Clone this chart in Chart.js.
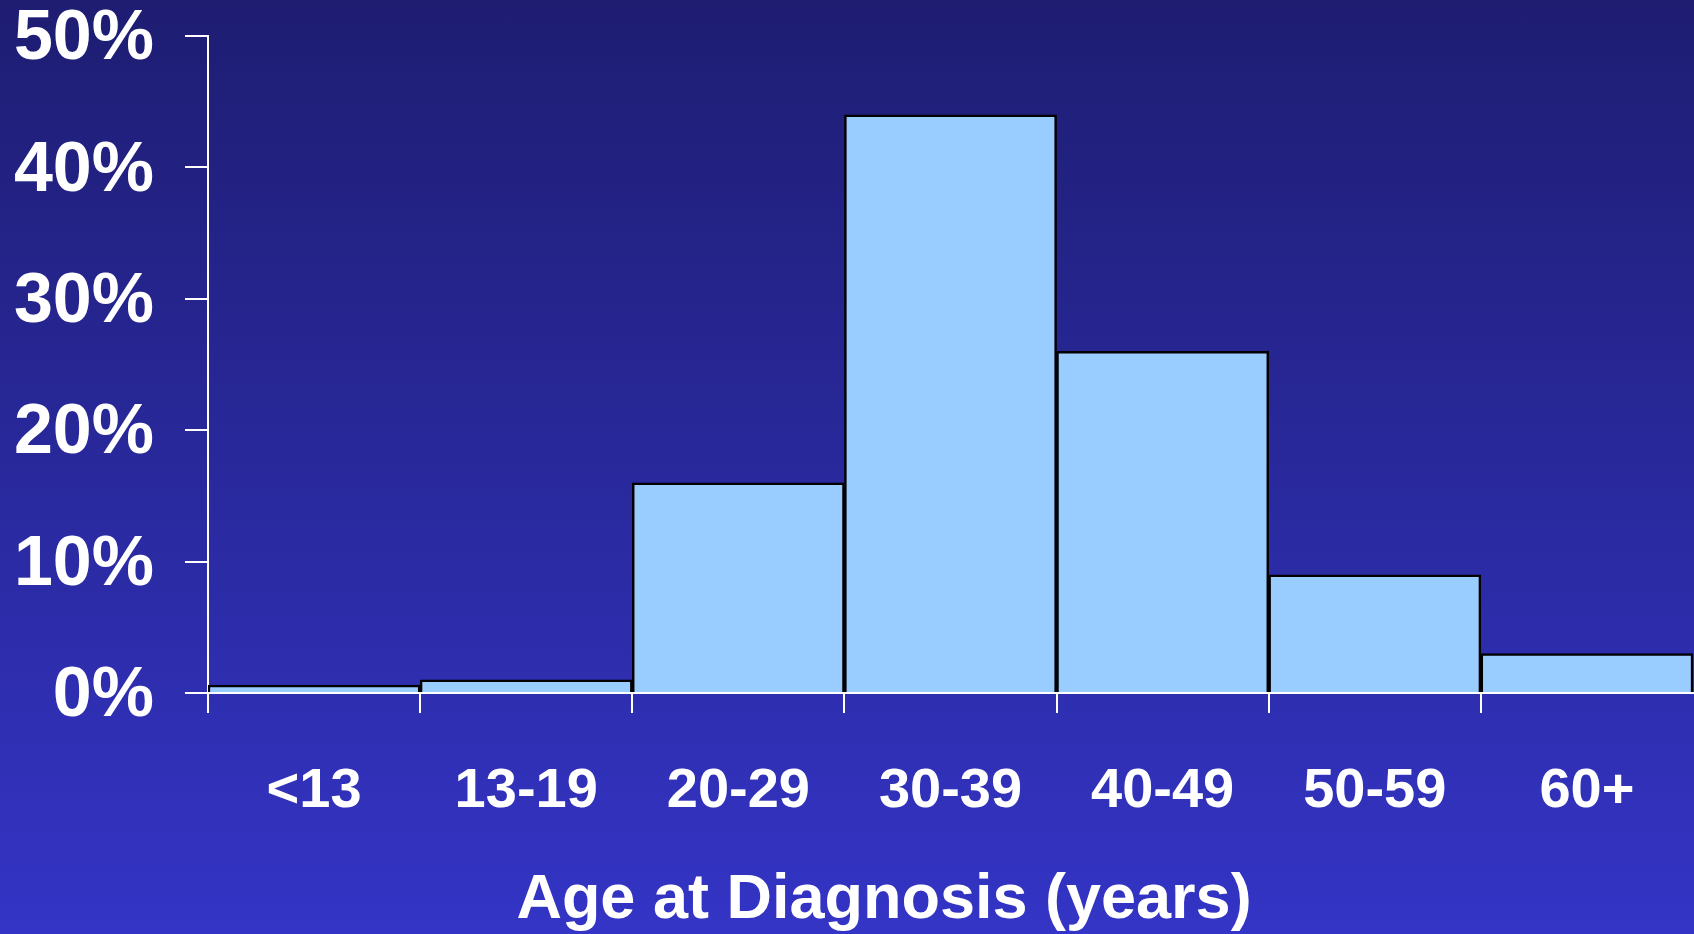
<!DOCTYPE html>
<html>
<head>
<meta charset="utf-8">
<script src="https://cdn.jsdelivr.net/npm/chart.js@4"></script>
<style>
  html, body { margin: 0; padding: 0; }
  body {
    width: 1694px; height: 934px; overflow: hidden;
    background: linear-gradient(to bottom, #1e1d72, #3434c6);
  }
  #wrap { position: relative; width: 1694px; height: 934px; }
</style>
</head>
<body>
<div id="wrap"><canvas id="ageChart"></canvas></div>
<script>
// age groups and share of cases (%)
const ageGroups = ['<13', '13-19', '20-29', '30-39', '40-49', '50-59', '60+'];
const sharePct = [0.6, 1.0, 16, 44, 26, 9, 3];
const yTicks = [0, 10, 20, 30, 40, 50];
const xTitle = 'Age at Diagnosis (years)';

const FONT = '"Liberation Sans", Arial, Helvetica, sans-serif';

// axis title drawn off-centre like in the slide
const titlePlugin = {
  id: 'xTitle',
  afterDraw(chart) {
    const ctx = chart.ctx;
    ctx.save();
    ctx.fillStyle = '#ffffff';
    ctx.font = 'bold 63px ' + FONT;
    ctx.textAlign = 'center';
    ctx.textBaseline = 'alphabetic';
    ctx.fillText(xTitle, 884, 918);
    ctx.restore();
  }
};

new Chart(document.getElementById('ageChart'), {
  type: 'bar',
  data: {
    labels: ageGroups,
    datasets: [{
      data: sharePct,
      backgroundColor: '#99ccff',
      borderColor: '#000000',
      borderWidth: 2.5,
      barPercentage: 1,
      categoryPercentage: 1
    }]
  },
  options: {
    responsive: true,
    maintainAspectRatio: false,
    animation: false,
    layout: { padding: { top: 36, left: 14, right: 1, bottom: 114 } },
    plugins: { legend: { display: false }, tooltip: { enabled: false } },
    scales: {
      x: {
        z: 1,
        afterFit(scale) { scale.height = 127; },
        grid: {
          offset: true,
          drawOnChartArea: false,
          drawTicks: true,
          tickLength: 20,
          // no tick at the far right end
          color: c => c.type === 'tick' ? '#ffffff' : 'rgba(0,0,0,0)',
          lineWidth: 2
        },
        border: { color: '#ffffff', width: 2 },
        ticks: {
          color: '#ffffff',
          padding: 45,
          font: { family: FONT, size: 56, weight: 'bold' },
          maxRotation: 0
        }
      },
      y: {
        min: 0,
        max: 50,
        afterBuildTicks(scale) {
          scale.ticks = yTicks.map(v => ({ value: v }));
        },
        afterFit(scale) {
          scale.width = 194;
          scale.paddingTop = 0;
          scale.paddingBottom = 0;
        },
        grid: {
          drawOnChartArea: false,
          drawTicks: true,
          tickLength: 23,
          color: '#ffffff',
          lineWidth: 2
        },
        border: { color: '#ffffff', width: 2 },
        ticks: {
          color: '#ffffff',
          padding: 31,
          labelOffset: 4,
          font: { family: FONT, size: 70, weight: 'bold', lineHeight: 1 },
          callback: v => v + '%'
        }
      }
    }
  },
  plugins: [titlePlugin]
});
</script>
</body>
</html>
